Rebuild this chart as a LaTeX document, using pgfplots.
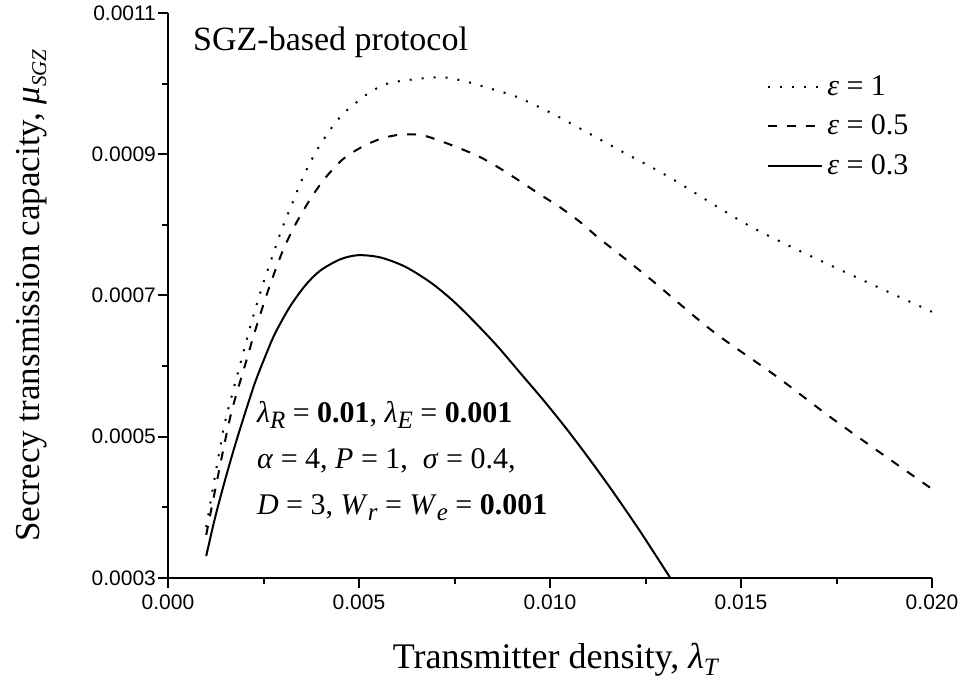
\documentclass[border=0pt]{standalone}
\usepackage{fontspec}
\setmainfont{Liberation Serif}
\newfontfamily\arial{Liberation Sans}
\usepackage{pgfplots}
\pgfplotsset{compat=1.18}
\newcommand{\sub}[1]{\raisebox{-0.45ex}{\fontsize{12.5}{12.5}\selectfont\textit{#1}}}
\begin{document}
\begin{tikzpicture}
\begin{axis}[
  scale only axis,
  width=382pt, height=282.5pt,
  xmin=0, xmax=0.02, ymin=0.0003, ymax=0.0011,
  axis x line=bottom, axis y line=left,
  axis line style={-, line width=1pt},
  tick align=outside,
  major tick length=5pt, minor tick length=3pt,
  every tick/.style={black, line width=1pt},
  xtick={0,0.005,0.01,0.015,0.02},
  ytick={0.0003,0.0005,0.0007,0.0009,0.0011},
  minor x tick num=1, minor y tick num=1,
  scaled x ticks=false, scaled y ticks=false,
  xticklabel style={/pgf/number format/fixed,/pgf/number format/precision=3,/pgf/number format/fixed zerofill},
  yticklabel style={/pgf/number format/fixed,/pgf/number format/precision=4,/pgf/number format/fixed zerofill, xshift=2.5pt},
  /pgf/number format/assume math mode=true,
  tick label style={font=\arial\fontsize{10.5}{12}\selectfont},
  xlabel={Transmitter density, \textit{λ}\sub{T}},
  ylabel={Secrecy transmission capacity, \textit{μ}\raisebox{-0.4ex}{\fontsize{10.5}{10.5}\selectfont\textit{SGZ}}},
  label style={font=\fontsize{18}{21}\selectfont},
  xlabel style={at={(axis description cs:0.508,-0.144)}, anchor=center},
  ylabel style={at={(axis description cs:-0.178,0.5)}, anchor=center, font=\fontsize{17.5}{21}\selectfont},
  legend style={draw=none, fill=none, at={(axis description cs:0.975,0.897)}, anchor=north east,
    font=\fontsize{15}{18}\selectfont, row sep=4.3pt, inner sep=0pt},
  legend cell align=left,
  legend image code/.code={\draw[#1] (0pt,0pt) -- (27pt,0pt);},
]
\addplot[black, line width=1pt, dash pattern=on 1pt off 5pt, smooth] coordinates {
(0.00100,0.000372) (0.00144,0.000507) (0.00168,0.000560) (0.00194,0.000613)
(0.00220,0.000665) (0.00249,0.000717) (0.00275,0.000758) (0.00298,0.000794)
(0.00325,0.000830) (0.00353,0.000867) (0.00390,0.000906) (0.00429,0.000938)
(0.00458,0.000957) (0.00490,0.000972) (0.00521,0.000985) (0.00581,0.001001)
(0.00704,0.001009) (0.00764,0.001005) (0.00825,0.000996) (0.00914,0.000981)
(0.01008,0.000957) (0.01097,0.000931) (0.01191,0.000903) (0.01314,0.000867)
(0.01524,0.000798) (0.01741,0.000741) (0.02000,0.000677)
};
\addlegendentry{\textit{ε} = 1}
\addplot[black, line width=1pt, dash pattern=on 4.5pt off 5pt, smooth] coordinates {
(0.00100,0.000361) (0.00149,0.000493) (0.00170,0.000543) (0.00202,0.000602)
(0.00228,0.000650) (0.00262,0.000707) (0.00298,0.000760) (0.00332,0.000799)
(0.00372,0.000836) (0.00411,0.000866) (0.00458,0.000893) (0.00510,0.000911)
(0.00563,0.000923) (0.00613,0.000928) (0.00665,0.000927) (0.00717,0.000918)
(0.00770,0.000907) (0.00817,0.000896) (0.00869,0.000880) (0.00921,0.000862)
(0.00974,0.000843) (0.01026,0.000825) (0.01079,0.000804) (0.01126,0.000782)
(0.01178,0.000760) (0.01270,0.000720) (0.01427,0.000649) (0.01594,0.000585)
(0.01751,0.000521) (0.02000,0.000426)
};
\addlegendentry{\textit{ε} = 0.5}
\addplot[black, line width=1pt, smooth] coordinates {
(0.00100,0.000331) (0.00123,0.000385) (0.00149,0.000438) (0.00175,0.000487)
(0.00202,0.000534) (0.00228,0.000577) (0.00254,0.000613) (0.00280,0.000646)
(0.00319,0.000684) (0.00359,0.000714) (0.00398,0.000735) (0.00450,0.000751)
(0.00497,0.000757) (0.00555,0.000754) (0.00620,0.000741) (0.00686,0.000719)
(0.00743,0.000694) (0.00798,0.000665) (0.00861,0.000629) (0.00921,0.000591)
(0.00984,0.000551) (0.01045,0.000510) (0.01105,0.000467) (0.01165,0.000422)
(0.01236,0.000366) (0.01315,0.000300)
};
\addlegendentry{\textit{ε} = 0.3}
\node[anchor=west, font=\fontsize{17}{20}\selectfont, inner sep=0pt] at (axis cs:0.00065,0.001059) {SGZ-based protocol};
\node[anchor=north west, align=left, font=\fontsize{15}{23}\selectfont, inner sep=0pt] at (axis cs:0.00232,0.000551) {%
\textit{λ}\sub{R} = \textbf{0.01}, \textit{λ}\sub{E} = \textbf{0.001}\\
\textit{α} = 4, \textit{P} = 1,\ \ \textit{σ} = 0.4,\\
\textit{D} = 3, \textit{W}\sub{r} = \textit{W}\sub{e} = \textbf{0.001}};
\end{axis}
\pgfresetboundingbox
\path[use as bounding box] ([shift={(-84pt,-52pt)}]current axis.south west) rectangle ([shift={(17pt,6.5pt)}]current axis.north east);
\end{tikzpicture}
\end{document}
